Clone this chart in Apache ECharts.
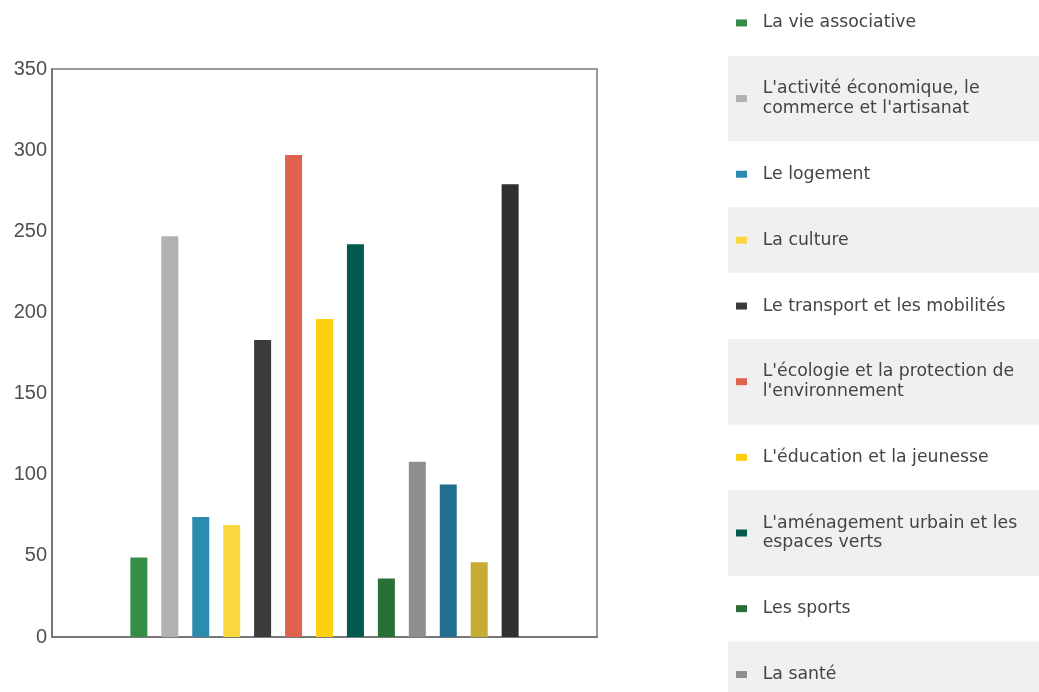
<!DOCTYPE html>
<html>
<head>
<meta charset="utf-8">
<script src="https://cdn.jsdelivr.net/npm/echarts@6/dist/echarts.min.js"></script>
<style>
html,body{margin:0;padding:0;background:#fff;}
#chart{width:1039px;height:692px;}
</style>
</head>
<body>
<div id="chart"></div>
<script>
// ---- data ----
const legendNames = [
  "La vie associative",
  "L'activité économique, le commerce et l'artisanat",
  "Le logement",
  "La culture",
  "Le transport et les mobilités",
  "L'écologie et la protection de l'environnement",
  "L'éducation et la jeunesse",
  "L'aménagement urbain et les espaces verts",
  "Les sports",
  "La santé"
];
const seriesValues = [49, 247, 74, 69, 183, 297, 196, 242, 36, 108, 94, 46, 279];
const yTicks = [0, 50, 100, 150, 200, 250, 300, 350];

// ---- styles ----
const colors = ['#368d48', '#b2b2b2', '#2b8cb0', '#f9d73f', '#3b3b3b', '#e0624e', '#fdd10f',
                '#005a4e', '#2a6f38', '#8e8e8e', '#236f8e', '#c7ac32', '#2f2f2f'];

const legendFont = 'DejaVu Sans';
const legendFontSize = 17.3;
const lineH = 19.5, padV = 23.2, textW = 268;

// measure wrapping to build alternating row backgrounds
const ctx = document.createElement('canvas').getContext('2d');
ctx.font = legendFontSize + 'px "' + legendFont + '"';
function lineCount(s) {
  const words = s.split(' ');
  let lines = 1, cur = '';
  for (const w of words) {
    const t = cur ? cur + ' ' + w : w;
    if (ctx.measureText(t).width > textW && cur) { lines++; cur = w; } else { cur = t; }
  }
  return lines;
}
const legendTop = -10;
const bgRects = [];
let yy = legendTop;
legendNames.forEach((n, i) => {
  const h = lineCount(n) * lineH + 2 * padV;
  if (i % 2 === 1) {
    bgRects.push({ type: 'rect', left: 728, top: yy, shape: { width: 311, height: h },
      style: { fill: '#f0f0f0' }, z: -1, silent: true });
  }
  yy += h;
});

const series = seriesValues.map((v, i) => ({
  type: 'bar',
  name: i < legendNames.length ? legendNames[i] : 'S' + (i + 1),
  data: [v],
  barWidth: 17,
  barGap: '82%',
  itemStyle: { color: colors[i] },
  emphasis: { disabled: true }
}));

const chart = echarts.init(document.getElementById('chart'));
chart.setOption({
  animation: false,
  backgroundColor: '#fff',
  graphic: bgRects,
  grid: { left: 52, right: 442, top: 69, bottom: 55, show: true, borderColor: '#9a9a9a', borderWidth: 2, backgroundColor: 'transparent' },
  xAxis: {
    type: 'category', data: [''],
    axisLine: { lineStyle: { color: '#777', width: 2 } },
    axisTick: { show: false }, axisLabel: { show: false }
  },
  yAxis: {
    type: 'value', min: yTicks[0], max: yTicks[yTicks.length - 1], interval: 50,
    axisLine: { show: true, lineStyle: { color: '#777', width: 2 } },
    axisTick: { show: false },
    splitLine: { show: false },
    axisLabel: { fontFamily: 'Liberation Sans', fontSize: 20, color: '#505050', margin: 5, padding: [3, 0, 0, 0] }
  },
  legend: {
    orient: 'vertical', left: 736, top: legendTop, height: 2000, padding: 0, itemGap: 0,
    itemWidth: 11, itemHeight: 7, icon: 'rect', selectedMode: false,
    data: legendNames,
    textStyle: {
      fontFamily: legendFont, fontSize: legendFontSize, color: '#444',
      lineHeight: lineH, width: textW, overflow: 'break',
      padding: [padV, 0, padV, 10.7]
    }
  },
  series: series
});
</script>
</body>
</html>
